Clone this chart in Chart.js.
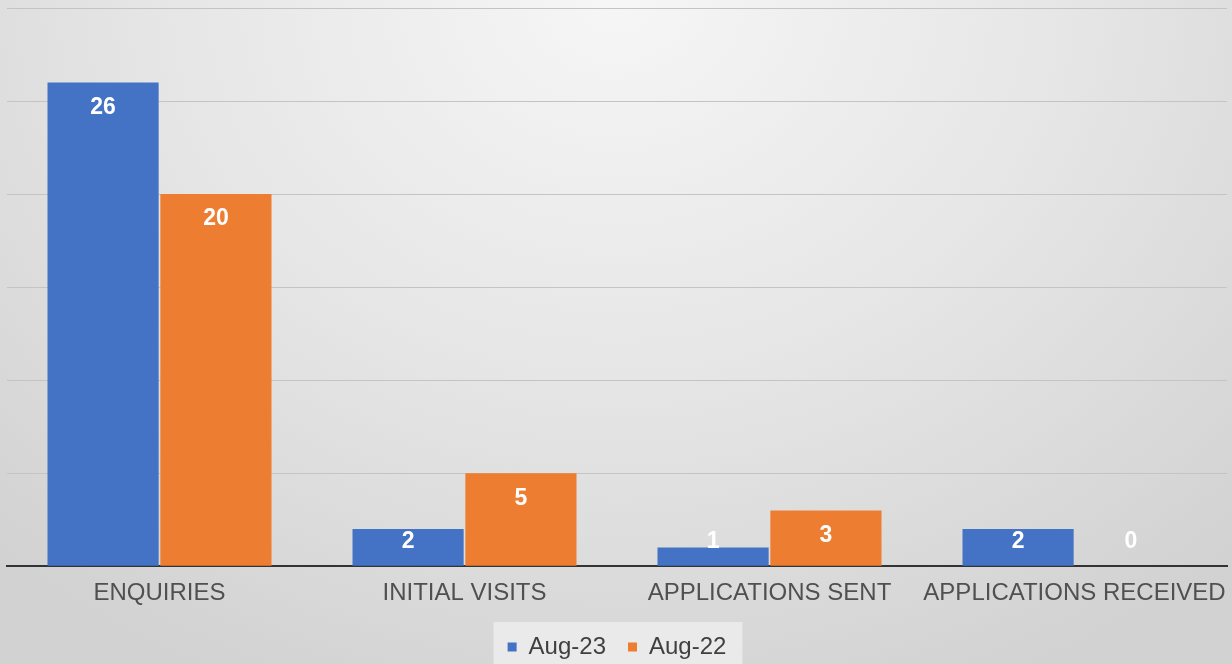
<!DOCTYPE html>
<html>
<head>
<meta charset="utf-8">
<script src="https://cdn.jsdelivr.net/npm/chart.js@4"></script>
<style>
  html, body { margin: 0; padding: 0; }
  body {
    width: 1232px; height: 664px; overflow: hidden;
    background: radial-gradient(ellipse 900px 750px at 616px 0px, #f6f6f6 0%, #e6e6e6 50%, #d2d2d2 100%);
  }
  #wrap { position: relative; width: 1232px; height: 664px; }
</style>
</head>
<body>
<div id="wrap"><canvas id="chart"></canvas></div>
<script>
const categories = ['ENQUIRIES', 'INITIAL VISITS', 'APPLICATIONS SENT', 'APPLICATIONS RECEIVED'];
const aug23 = [26, 2, 1, 2];
const aug22 = [20, 5, 3, 0];
const seriesNames = ['Aug-23', 'Aug-22'];

const FONT = '"Liberation Sans", Arial, sans-serif';

// white value labels near the top of each bar, kept above the baseline for short bars
const valueLabels = {
    id: 'valueLabels',
    afterDatasetsDraw(chart) {
        const ctx = chart.ctx;
        const base = chart.scales.y.getPixelForValue(0);
        ctx.save();
        ctx.font = 'bold 23px ' + FONT;
        ctx.fillStyle = '#ffffff';
        ctx.textAlign = 'center';
        ctx.textBaseline = 'middle';
        chart.data.datasets.forEach((ds, i) => {
            chart.getDatasetMeta(i).data.forEach((bar, j) => {
                const y = Math.min(bar.y + 25, base - 25);
                ctx.fillText(ds.data[j], bar.x, y);
            });
        });
        ctx.restore();
    }
};

// light box behind the legend
const legendBox = {
    id: 'legendBox',
    beforeDraw(chart) {
        const lg = chart.legend;
        if (!lg) return;
        const ctx = chart.ctx;
        let minX = Infinity, maxX = -Infinity;
        lg.legendHitBoxes.forEach(b => { minX = Math.min(minX, b.left); maxX = Math.max(maxX, b.left + b.width); });
        ctx.save();
        ctx.fillStyle = 'rgba(240,240,240,0.75)';
        ctx.fillRect(minX - 14, 622, maxX - minX + 30, 50);
        ctx.restore();
    }
};

new Chart(document.getElementById('chart'), {
    type: 'bar',
    data: {
        labels: categories,
        datasets: [
            { label: seriesNames[0], data: aug23, backgroundColor: '#4472C4' },
            { label: seriesNames[1], data: aug22, backgroundColor: '#ED7D31' }
        ]
    },
    options: {
        responsive: true,
        maintainAspectRatio: false,
        animation: false,
        categoryPercentage: 0.74,
        barPercentage: 0.985,
        layout: { padding: { left: 7, right: 5, top: 8, bottom: -5 } },
        plugins: {
            legend: {
                position: 'bottom',
                labels: {
                    boxWidth: 9,
                    boxHeight: 9,
                    padding: 22,
                    color: '#404040',
                    font: { size: 24, family: FONT }
                }
            },
            tooltip: { enabled: false }
        },
        scales: {
            x: {
                grid: { display: false },
                border: { color: '#333333', width: 2 },
                ticks: {
                    color: '#505050',
                    padding: 5,
                    maxRotation: 0,
                    autoSkip: false,
                    font: { size: 24, family: FONT }
                }
            },
            y: {
                min: 0,
                max: 30,
                ticks: { display: false, stepSize: 5 },
                border: { display: false },
                grid: { color: '#c4c4c4', drawTicks: false }
            }
        }
    },
    plugins: [legendBox, valueLabels]
});
</script>
</body>
</html>
